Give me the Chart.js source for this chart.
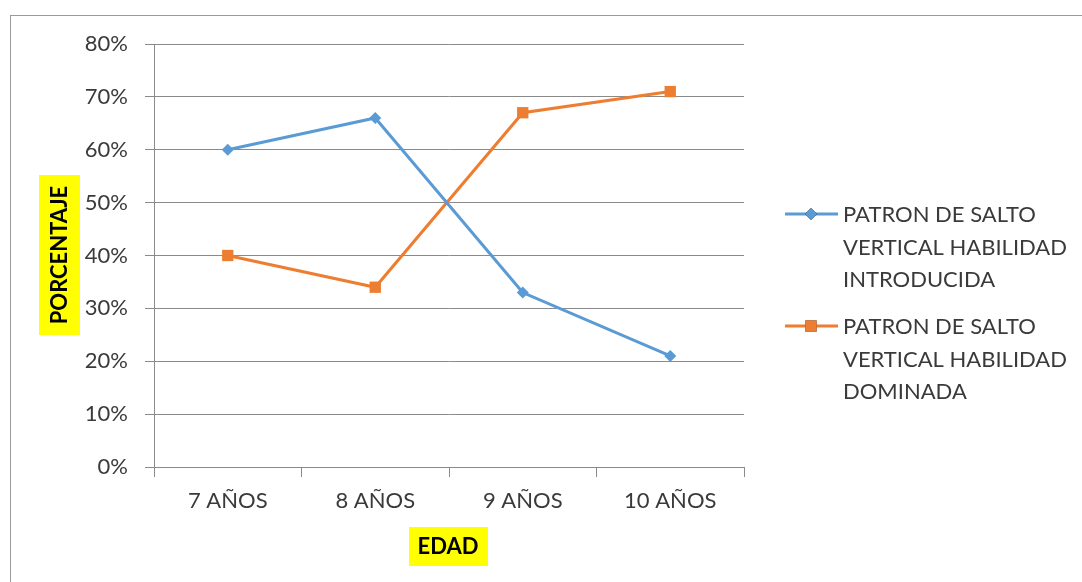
<!DOCTYPE html>
<html>
<head>
<meta charset="utf-8">
<script src="https://cdn.jsdelivr.net/npm/chart.js@4"></script>
<style>
  html, body { margin: 0; padding: 0; background: #fff; overflow: hidden; }
  #wrap { position: relative; width: 1082px; height: 582px; }
</style>
</head>
<body>
<div id="wrap"><canvas id="chart" width="1082" height="582"></canvas></div>
<script>
const categories = ["7 AÑOS", "8 AÑOS", "9 AÑOS", "10 AÑOS"];
const introducida = [0.60, 0.66, 0.33, 0.21];
const dominada = [0.40, 0.34, 0.67, 0.71];
const legendIntroducida = ["PATRON DE SALTO", "VERTICAL HABILIDAD", "INTRODUCIDA"];
const legendDominada = ["PATRON DE SALTO", "VERTICAL HABILIDAD", "DOMINADA"];
const yTitle = "PORCENTAJE";
const xTitle = "EDAD";

const font = "Lato, 'Open Sans', sans-serif";
const textColor = "#3a3a3a";
const gridColor = "#8a8a8a";

// frame, axis titles with yellow boxes and the wrapped legend
const extras = {
  id: "extras",
  beforeDraw(chart) {
    const ctx = chart.ctx;
    ctx.save();
    ctx.strokeStyle = "#9a9a9a";
    ctx.lineWidth = 1;
    ctx.strokeRect(10.5, 15.5, 1100, 600);
    ctx.restore();
  },
  afterDraw(chart) {
    const ctx = chart.ctx;
    ctx.save();

    // y title
    ctx.font = "bold 22px " + font;
    let w = ctx.measureText(yTitle).width;
    ctx.translate(59, 255);
    ctx.rotate(-Math.PI / 2);
    ctx.fillStyle = "#ffff00";
    ctx.fillRect(-80, -20, 160, 41);
    ctx.fillStyle = "#000";
    ctx.textAlign = "center";
    ctx.textBaseline = "middle";
    ctx.fillText(yTitle, 0, 1);
    ctx.setTransform(1, 0, 0, 1, 0, 0);

    // x title
    ctx.font = "bold 22px " + font;
    w = ctx.measureText(xTitle).width;
    ctx.fillStyle = "#ffff00";
    ctx.fillRect(409, 527, 79, 39);
    ctx.fillStyle = "#000";
    ctx.textAlign = "center";
    ctx.textBaseline = "middle";
    ctx.fillText(xTitle, 448, 547);

    // legend
    const items = [
      { lines: legendIntroducida, ds: chart.data.datasets[0], y: 214 },
      { lines: legendDominada, ds: chart.data.datasets[1], y: 326 }
    ];
    ctx.font = "22px " + font;
    ctx.textAlign = "left";
    items.forEach(it => {
      ctx.strokeStyle = it.ds.borderColor;
      ctx.lineWidth = 3;
      ctx.beginPath();
      ctx.moveTo(785, it.y);
      ctx.lineTo(838, it.y);
      ctx.stroke();
      Chart.helpers.drawPoint(ctx, {
        pointStyle: it.ds.pointStyle,
        radius: it.ds.pointRadius,
        borderWidth: 0
      }, 811, it.y);
      ctx.fillStyle = it.ds.borderColor;
      ctx.fill();
      ctx.fillStyle = textColor;
      it.lines.forEach((ln, i) => ctx.fillText(ln, 843, it.y + 1 + i * 32.5));
    });
    ctx.restore();
  }
};

new Chart(document.getElementById("chart"), {
  type: "line",
  data: {
    labels: categories,
    datasets: [
      {
        label: legendIntroducida.join(" "),
        data: introducida,
        borderColor: "#5b9bd5",
        backgroundColor: "#5b9bd5",
        borderWidth: 3,
        pointStyle: "rectRot",
        pointRadius: 6,
        pointBorderWidth: 0,
        tension: 0
      },
      {
        label: legendDominada.join(" "),
        data: dominada,
        borderColor: "#ed7d31",
        backgroundColor: "#ed7d31",
        borderWidth: 3,
        pointStyle: "rect",
        pointRadius: 8,
        pointBorderWidth: 0,
        tension: 0
      }
    ]
  },
  options: {
    responsive: false,
    animation: false,
    layout: { padding: { left: 0, right: 338, top: 44, bottom: 0 } },
    plugins: {
      legend: { display: false },
      tooltip: { enabled: false }
    },
    scales: {
      x: {
        offset: true,
        afterFit(scale) { scale.height = 582 - 467; },
        grid: {
          offset: true,
          drawOnChartArea: false,
          drawTicks: true,
          tickLength: 10,
          color: gridColor
        },
        border: { display: true, color: gridColor },
        ticks: {
          color: textColor,
          font: { family: font, size: 22 },
          padding: 11,
          maxRotation: 0
        }
      },
      y: {
        min: 0,
        max: 0.8,
        afterFit(scale) { scale.width = 154; },
        grid: {
          color: gridColor,
          drawTicks: true,
          tickLength: 9
        },
        border: { display: true, color: gridColor },
        ticks: {
          stepSize: 0.1,
          color: textColor,
          font: { family: font, size: 22 },
          padding: 17,
          callback: v => Math.round(v * 100) + "%"
        }
      }
    }
  },
  plugins: [extras]
});
</script>
</body>
</html>
